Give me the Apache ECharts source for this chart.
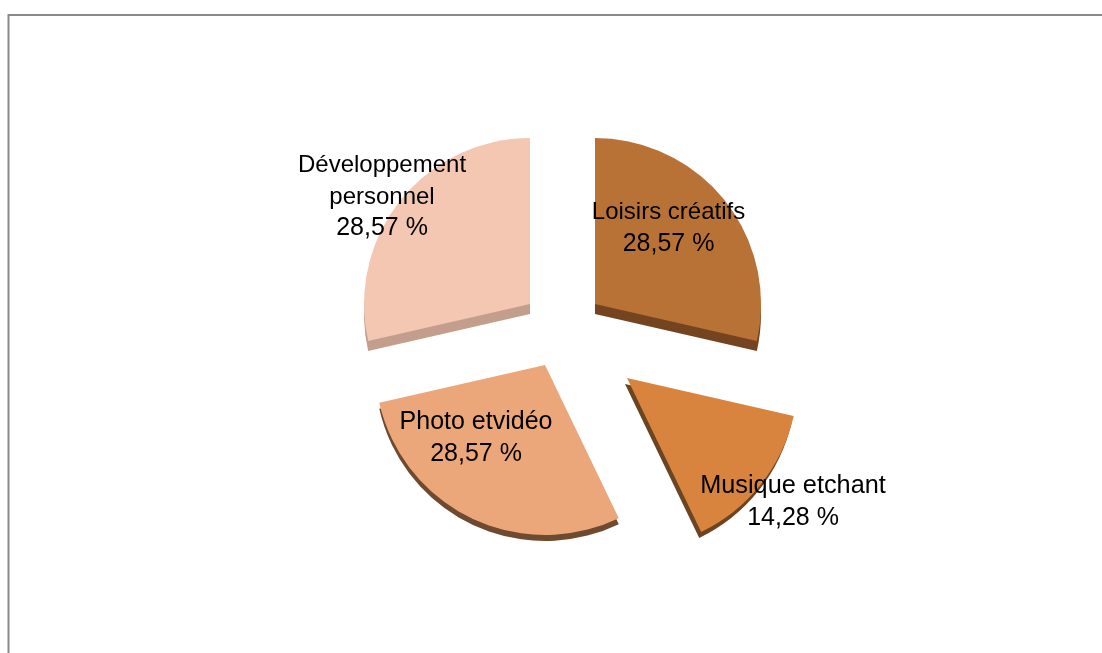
<!DOCTYPE html>
<html><head><meta charset="utf-8">
<style>html,body{margin:0;padding:0;background:#fff}#c{width:1102px;height:653px}</style>
<script src="https://cdn.jsdelivr.net/npm/echarts@6/dist/echarts.min.js"></script>
</head><body><div id="c"></div>
<script>
const categories = ['Loisirs créatifs', 'Musique etchant', 'Photo etvidéo', 'Développement\npersonnel'];
const values = [28.57, 14.28, 28.57, 28.57];
const colors = ['#B87236', '#D8843E', '#EBA679', '#F4C7B3'];
const wallColors = ['#744420', '#6B4522', '#6E4A30', '#C39E8D'];
const centers = [[595, 304], [627, 378], [545, 365], [530, 304]];
const radii = [166, 171, 170, 166];
const wallOffsets = [[0, 10], [-2, 6], [0, 6], [0, 10]];
const labelPos = [[668.5, 228], [793, 502], [476, 438], [382, 197]];
const nameFontSizes = [24, 25.3, 25, 24];

const total = values.reduce((a, b) => a + b, 0);
let cum = 0;
const series = categories.map((name, i) => {
  const start = 90 - cum / total * 360;
  cum += values[i];
  const end = 90 - cum / total * 360;
  return {
    type: 'pie',
    name,
    center: centers[i],
    radius: radii[i],
    startAngle: start,
    endAngle: end,
    animation: false,
    silent: true,
    emphasis: { disabled: true },
    avoidLabelOverlap: false,
    data: [{ name, value: values[i] }],
    itemStyle: {
      color: colors[i],
      shadowColor: wallColors[i],
      shadowBlur: 0,
      shadowOffsetX: wallOffsets[i][0],
      shadowOffsetY: wallOffsets[i][1]
    },
    label: {
      show: true,
      position: 'inside',
      fontFamily: '"Liberation Sans", Arial, sans-serif',
      color: '#000',
      align: 'center',
      rich: {
        n: { fontFamily: '"Liberation Sans", Arial, sans-serif', fontSize: nameFontSizes[i], lineHeight: 31.5, color: '#000', align: 'center' },
        p: { fontFamily: '"Liberation Sans", Arial, sans-serif', fontSize: 25, lineHeight: 31.5, color: '#000', align: 'center' }
      },
      formatter: p => p.name.split('\n').map(s => '{n|' + s + '}').join('\n') + '\n{p|' + p.value.toFixed(2).replace('.', ',') + ' %}'
    },
    labelLine: { show: false },
    labelLayout: { x: labelPos[i][0], y: labelPos[i][1], align: 'center', verticalAlign: 'middle', hideOverlap: false }
  };
});

const chart = echarts.init(document.getElementById('c'), null, { renderer: 'canvas' });
chart.setOption({
  backgroundColor: '#fff',
  animation: false,
  graphic: [{
    type: 'polyline',
    silent: true,
    shape: { points: [[8.5, 653], [8.5, 15], [1102, 15]] },
    style: { stroke: '#8a8a8a', lineWidth: 2, fill: null }
  }],
  series
});
</script></body></html>
